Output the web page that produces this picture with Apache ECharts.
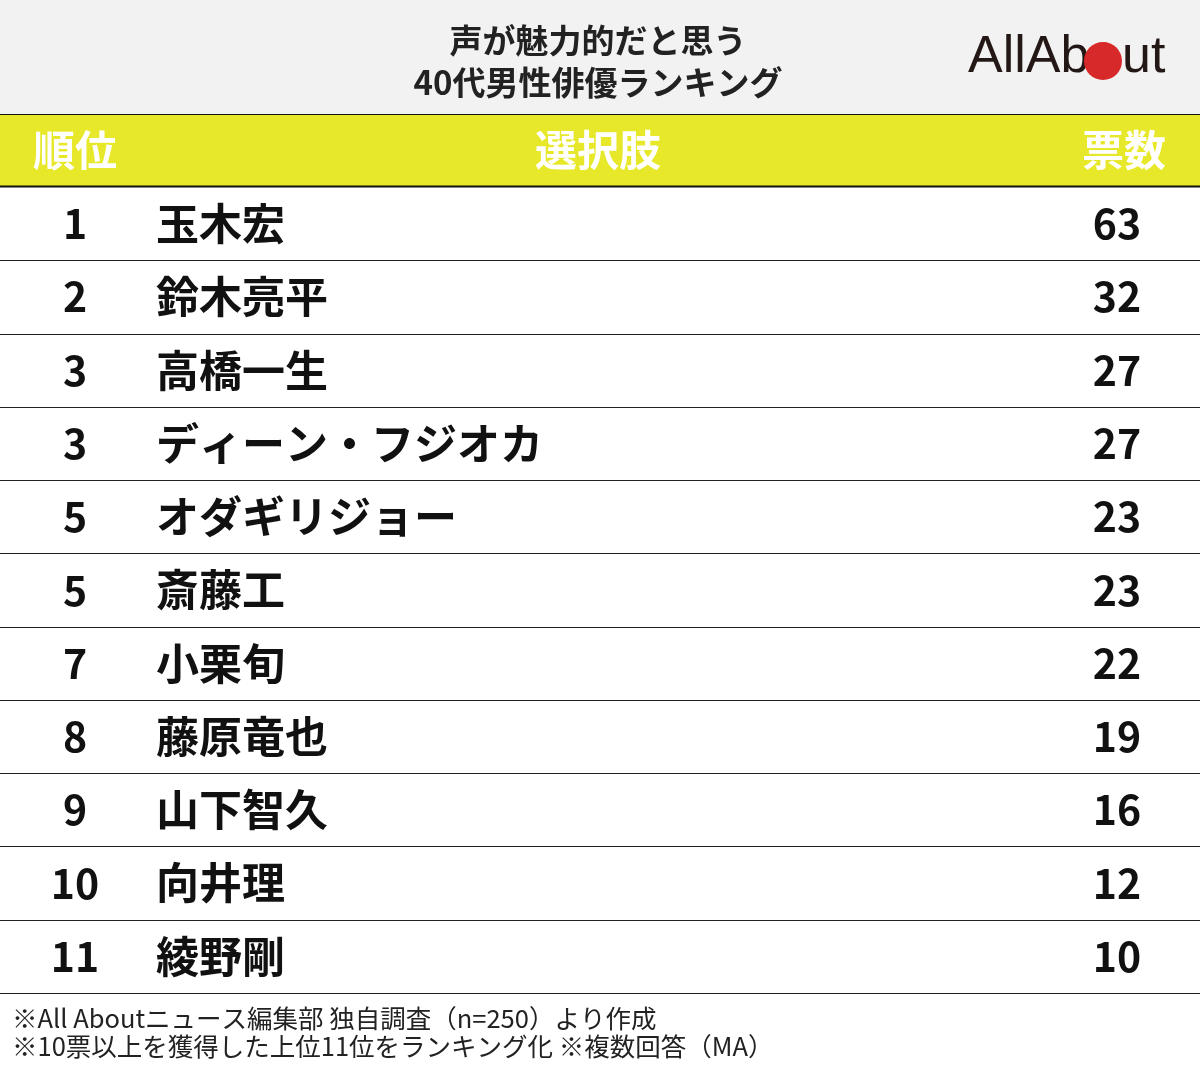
<!DOCTYPE html>
<html><head><meta charset="utf-8">
<script src="https://cdn.jsdelivr.net/npm/echarts@6/dist/echarts.min.js"></script>
<style>html,body{margin:0;padding:0;background:#fff}#chart{width:1200px;height:1068px}</style>
</head><body><div id="chart"></div>
<script>
// table data
var ranks = ['1','2','3','3','5','5','7','8','9','10','11'];
var names = ['玉木宏','鈴木亮平','高橋一生','ディーン・フジオカ','オダギリジョー','斎藤工','小栗旬','藤原竜也','山下智久','向井理','綾野剛'];
var votes = [63,32,27,27,23,23,22,19,16,12,10];
var headers = ['順位','選択肢','票数'];
var titleLines = ['声が魅力的だと思う','40代男性俳優ランキング'];
var notes = ['※All Aboutニュース編集部 独自調査（n=250）より作成','※10票以上を獲得した上位11位をランキング化 ※複数回答（MA）'];

var FONT = '"Noto Sans CJK JP", sans-serif';
var LOGO = '300 52px "Liberation Sans Narrow", "Liberation Sans", sans-serif';
var rows = names.map(function(n,i){ return [0, i, ranks[i], n, votes[i]]; });

var chart = echarts.init(document.getElementById('chart'));
chart.setOption({
  animation:false,
  backgroundColor:'#fff',
  grid:{left:0,right:0,top:187,height:806},
  xAxis:{type:'value',min:0,max:1,show:false},
  yAxis:{type:'category',data:names,inverse:true,show:false},
  graphic:[
    {type:'rect',shape:{x:0,y:0,width:1200,height:114},style:{fill:'#f2f2f2'}},
    {type:'text',x:598,y:40,style:{text:titleLines[0],font:'bold 33px '+FONT,fill:'#222',align:'center',verticalAlign:'middle'}},
    {type:'text',x:598,y:82,style:{text:titleLines[1],font:'bold 33px '+FONT,fill:'#222',align:'center',verticalAlign:'middle'}},
    {type:'text',x:968,y:58,style:{text:'AllAb',font:LOGO,fill:'#231815',verticalAlign:'middle',letterSpacing:-2}},
    {type:'circle',shape:{cx:1103,cy:61,r:19},style:{fill:'#d7282a'}},
    {type:'text',x:1122,y:58,style:{text:'ut',font:LOGO,fill:'#231815',verticalAlign:'middle',letterSpacing:-2}},
    {type:'rect',shape:{x:0,y:114,width:1200,height:72},style:{fill:'#e8e82a'}},
    {type:'line',shape:{x1:0,y1:114.5,x2:1200,y2:114.5},style:{stroke:'#111',lineWidth:1}},
    {type:'line',shape:{x1:0,y1:186.5,x2:1200,y2:186.5},style:{stroke:'#111',lineWidth:2}},
    {type:'text',x:75,y:150,style:{text:headers[0],font:'bold 42px '+FONT,fill:'#fff',align:'center',verticalAlign:'middle'}},
    {type:'text',x:598,y:150,style:{text:headers[1],font:'bold 42px '+FONT,fill:'#fff',align:'center',verticalAlign:'middle'}},
    {type:'text',x:1124,y:150,style:{text:headers[2],font:'bold 42px '+FONT,fill:'#fff',align:'center',verticalAlign:'middle'}},
    {type:'text',x:12,y:1018,style:{text:notes[0],font:'25.5px '+FONT,fill:'#222',verticalAlign:'middle'}},
    {type:'text',x:12,y:1046,style:{text:notes[1],font:'25.5px '+FONT,fill:'#222',verticalAlign:'middle'}}
  ],
  series:[{
    type:'custom',
    data:rows,
    encode:{x:0,y:1},
    renderItem:function(params,api){
      var c = api.coord([0,api.value(1)]);
      var h = api.size([0,1])[1];
      var y = c[1];
      return {type:'group',children:[
        {type:'text',x:75,y:y,style:{text:String(api.value(2)),font:'bold 41px '+FONT,fill:'#111',align:'center',verticalAlign:'middle'}},
        {type:'text',x:156,y:y,style:{text:names[params.dataIndex],font:'bold 43px '+FONT,fill:'#111',verticalAlign:'middle'}},
        {type:'text',x:1117,y:y,style:{text:String(api.value(4)),font:'bold 41px '+FONT,fill:'#111',align:'center',verticalAlign:'middle'}},
        {type:'line',shape:{x1:0,y1:Math.round(y+h/2)+0.5,x2:1200,y2:Math.round(y+h/2)+0.5},style:{stroke:'#222',lineWidth:1}}
      ]};
    }
  }]
});
</script></body></html>
